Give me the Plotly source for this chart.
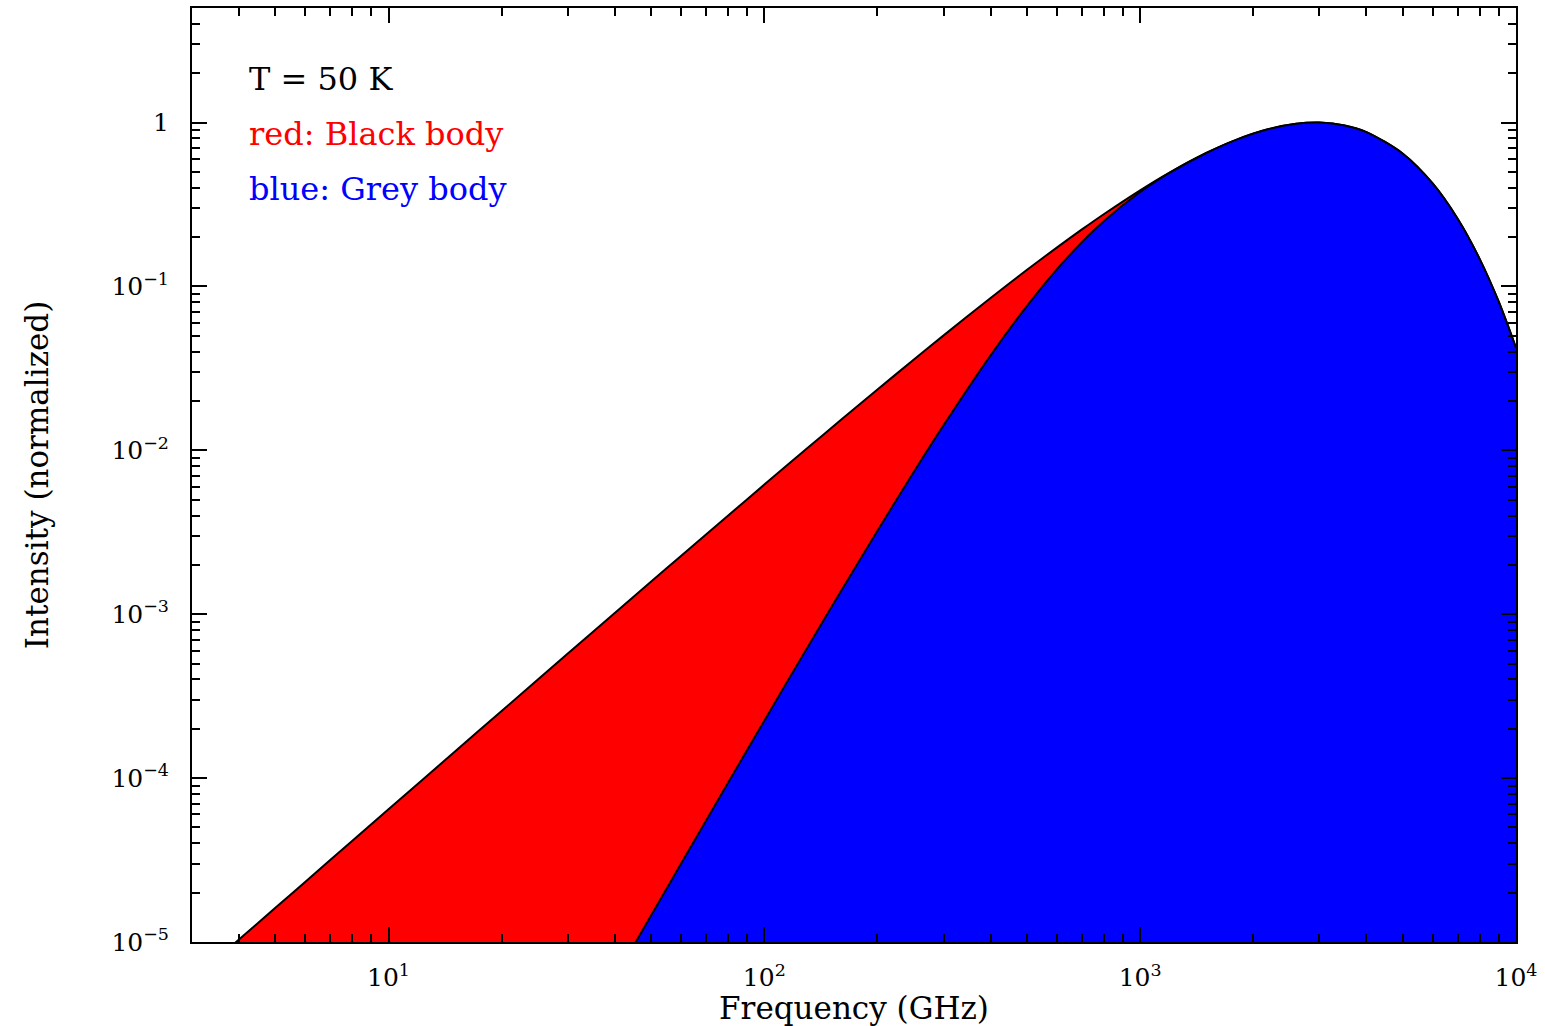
import plotly.graph_objects as go

# ---- data ----
freq_ghz = [3, 4, 5, 6, 8, 10, 15, 20, 30, 40, 50, 60, 80, 100, 130, 160, 200, 250,
            300, 400, 500, 600, 700, 800, 1000, 1200, 1500, 1800, 2200, 2600, 3000,
            3500, 4000, 5000, 6000, 7000, 8000, 9000, 10000]

black_body = [5.83e-6, 1.035e-5, 1.617e-5, 2.327e-5, 4.13e-5, 6.45e-5, 1.448e-4,
              2.568e-4, 5.75e-4, 1.017e-3, 1.582e-3, 2.267e-3, 3.99e-3, 6.18e-3,
              1.029e-2, 1.535e-2, 2.35e-2, 3.58e-2, 5.03e-2, 8.51e-2, 0.1263, 0.1726,
              0.2228, 0.2758, 0.3861, 0.4968, 0.6522, 0.7841, 0.9122, 0.9826, 0.9995,
              0.9604, 0.8752, 0.6458, 0.4252, 0.2581, 0.1474, 0.0804, 0.0422]

grey_body = [1.9e-10, 6.1e-10, 1.49e-9, 3.1e-9, 9.8e-9, 2.39e-8, 1.2e-7, 3.8e-7,
             1.91e-6, 6.0e-6, 1.456e-5, 3.0e-5, 9.34e-5, 2.24e-4, 6.23e-4, 1.387e-3,
             3.23e-3, 7.40e-3, 1.425e-2, 3.80e-2, 7.62e-2, 0.1270, 0.1864, 0.2499,
             0.3766, 0.4944, 0.6520, 0.7840, 0.9122, 0.9826, 0.9995, 0.9604, 0.8752,
             0.6458, 0.4252, 0.2581, 0.1474, 0.0804, 0.0422]

x_tick_vals = [10, 100, 1000, 10000]
x_tick_text = ["10<sup>1</sup>", "10<sup>2</sup>", "10<sup>3</sup>", "10<sup>4</sup>"]
y_tick_vals = [1e-5, 1e-4, 1e-3, 1e-2, 1e-1, 1]
y_tick_text = ["10<sup>\u22125</sup>", "10<sup>\u22124</sup>", "10<sup>\u22123</sup>",
               "10<sup>\u22122</sup>", "10<sup>\u22121</sup>", "1"]

labels = ["T = 50 K", "red: Black body", "blue: Grey body"]
label_colors = ["black", "#ff0000", "#0000ff"]

FONT = "DejaVu Serif"

fig = go.Figure()
fig.add_trace(go.Scatter(
    x=freq_ghz, y=black_body, mode="lines", fill="tozeroy",
    fillcolor="#ff0000", line=dict(color="black", width=2, shape="spline", smoothing=0.8),
    name="Black body", hoverinfo="skip"))
fig.add_trace(go.Scatter(
    x=freq_ghz, y=grey_body, mode="lines", fill="tozeroy",
    fillcolor="#0000ff", line=dict(color="black", width=2, shape="spline", smoothing=0.8),
    name="Grey body", hoverinfo="skip"))

axis_common = dict(
    type="log", showline=True, linecolor="black", linewidth=2, mirror="allticks",
    ticks="inside", ticklen=15, tickwidth=2, tickcolor="black",
    showgrid=False, zeroline=False,
    tickfont=dict(family=FONT, size=25, color="black"),
    minor=dict(ticks="inside", ticklen=8, tickwidth=2, tickcolor="black",
               dtick="D1", showgrid=False),
)

fig.update_xaxes(
    **axis_common,
    range=[0.47712, 4.0],
    tickmode="array", tickvals=x_tick_vals, ticktext=x_tick_text,
    ticklabelstandoff=12,
    title=dict(text="Frequency (GHz)", font=dict(family=FONT, size=31, color="black"),
               standoff=0),
)
fig.update_yaxes(
    **axis_common,
    range=[-5.0, 0.69897],
    tickmode="array", tickvals=y_tick_vals, ticktext=y_tick_text,
    ticklabelstandoff=16,
    title=dict(text="Intensity (normalized)", font=dict(family=FONT, size=31, color="black"),
               standoff=54),
)

ys = [0.924, 0.865, 0.806]
for txt, col, yy in zip(labels, label_colors, ys):
    fig.add_annotation(text=txt, xref="paper", yref="paper", x=0.0415, y=yy,
                       xanchor="left", yanchor="middle", showarrow=False,
                       font=dict(family=FONT, size=32, color=col))

fig.update_layout(
    width=1545, height=1026,
    margin=dict(l=192, r=29, t=8, b=84, autoexpand=False),
    paper_bgcolor="white", plot_bgcolor="white",
    showlegend=False,
)

fig.write_html("out.html", config={"displayModeBar": False})
